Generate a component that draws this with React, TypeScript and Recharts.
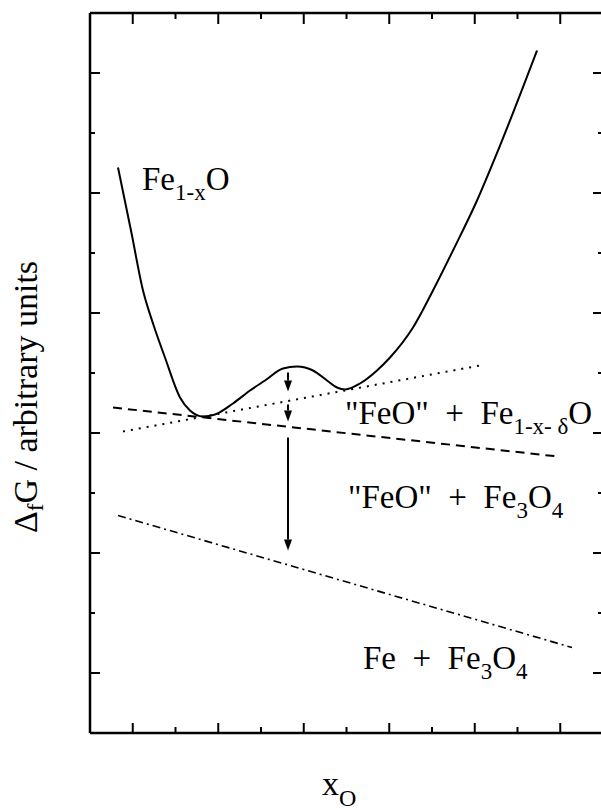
import React from 'react';
import { ComposedChart, Line, XAxis, YAxis, Scatter, ReferenceLine } from 'recharts';

const FONT = '"Liberation Serif", "DejaVu Serif", "Times New Roman", serif';

// Fe(1-x)O free-energy curve
const feoX = [0.655, 0.959, 1.24, 1.474, 1.754, 2.105, 2.339, 2.643, 2.924, 3.345, 3.743, 4.094, 4.515, 4.842, 5.216, 5.544, 5.778, 5.965, 6.316, 6.713, 7.018, 7.556, 8.023, 8.491, 9.053, 9.544, 10.456];
const feoG = [9.425, 8.375, 7.375, 6.825, 6.258, 5.592, 5.375, 5.275, 5.308, 5.492, 5.708, 5.875, 6.075, 6.108, 6.042, 5.875, 5.758, 5.725, 5.825, 6.042, 6.258, 6.758, 7.375, 8.042, 8.875, 9.708, 11.375];

// common tangent "FeO" + Fe(1-x-d)O (dotted)
const tangentX = [0.772, 9.123];
const tangentG = [5.025, 6.125];

// "FeO" + Fe3O4 (dashed)
const feoMagX = [0.538, 10.947];
const feoMagG = [5.425, 4.608];

// Fe + Fe3O4 (dash-dot)
const feMagX = [0.655, 11.275];
const feMagG = [3.625, 1.425];

// arrows
const arrowX = [4.632, 4.632, 4.632];
const arrowFrom = [6.008, 5.475, 4.925];
const arrowTo = [5.692, 5.192, 3.042];

// annotations: [text, isSubscript]
const labelX = [1.216, 5.965, 6.035, 6.386];
const labelG = [9.058, 5.158, 3.742, 1.075];
const labelParts: [string, number][][] = [
  [['Fe', 0], ['1-x', 1], ['O', 0]],
  [['"FeO"\u00a0\u00a0+\u00a0\u00a0Fe', 0], ['1-x-\u00a0\u03b4', 1], ['O', 0]],
  [['"FeO"\u00a0\u00a0+\u00a0\u00a0Fe', 0], ['3', 1], ['O', 0], ['4', 1]],
  [['Fe\u00a0\u00a0+\u00a0\u00a0Fe', 0], ['3', 1], ['O', 0], ['4', 1]],
];

// tick positions (odd = long tick, even = short tick)
const axisTicks = [1, 2, 3, 4, 5, 6, 7, 8, 9, 10, 11];

const zip = (xs: number[], ys: number[]) => xs.map((x, i) => ({ x, y: ys[i] }));
const feoData = zip(feoX, feoG);
const tangentData = zip(tangentX, tangentG);
const feoMagData = zip(feoMagX, feoMagG);
const feMagData = zip(feMagX, feMagG);
const labelData = labelX.map((x, i) => ({ x, y: labelG[i], parts: labelParts[i] }));

const textStyle = { fontFamily: FONT };

const LabelShape = (props: any) => {
  const { cx, cy, payload } = props;
  if (cx == null || cy == null) return null;
  let level = 0;
  return (
    <text x={cx} y={cy} style={textStyle} fontSize={33} fill="#000">
      {payload.parts.map((p: [string, number], i: number) => {
        const sub = p[1] === 1;
        let dy = 0;
        if (sub && level === 0) dy = 10;
        if (!sub && level === 1) dy = -10;
        level = sub ? 1 : 0;
        return (
          <tspan key={i} dy={dy} fontSize={sub ? 23 : 33}>
            {p[0]}
          </tspan>
        );
      })}
    </text>
  );
};

const ArrowShape = (props: any) => {
  const { x1, y1, x2, y2 } = props;
  if ([x1, y1, x2, y2].some((v) => v == null || isNaN(v))) return null;
  const dir = y2 > y1 ? 1 : -1;
  const head = 11;
  const hw = 4;
  return (
    <g>
      <line x1={x1} y1={y1} x2={x2} y2={y2 - dir * head} stroke="#000" strokeWidth={2} />
      <polygon points={`${x2},${y2} ${x2 - hw},${y2 - dir * head} ${x2 + hw},${y2 - dir * head}`} fill="#000" />
    </g>
  );
};

const tickLen = (v: number, major: number, minor: number) => (Math.round(v) % 2 === 1 ? major : minor);

// inward tick marks drawn from the axis line
const makeTick = (dx: number, dy: number, major: number, minor: number) => (props: any) => {
  const { x, y, payload } = props;
  if (x == null || y == null) return <g />;
  const len = tickLen(payload.value, major, minor);
  return <line x1={x} y1={y} x2={x + dx * len} y2={y + dy * len} stroke="#000" strokeWidth={2} />;
};

const bottomTick = makeTick(0, -1, 10, 6);
const topTick = makeTick(0, 1, 11, 6);
const leftTick = makeTick(1, 0, 10, 5);
const rightTick = makeTick(-1, 0, 10, 5);

const axisLine = { stroke: '#000', strokeWidth: 2.5 };

export default function App() {
  return (
    <div style={{ position: 'absolute', left: 0, top: 0, width: 601, height: 810, overflow: 'hidden', background: '#fff' }}>
      <ComposedChart width={640} height={810} margin={{ top: 13, right: 37, bottom: 77, left: 90 }}>
        <XAxis xAxisId={0} type="number" dataKey="x" domain={[0, 12]} ticks={axisTicks} interval={0} orientation="bottom" mirror tick={bottomTick} tickSize={0} tickMargin={0} tickLine={false} axisLine={axisLine} allowDataOverflow />
        <XAxis xAxisId="t" type="number" dataKey="x" domain={[0, 12]} ticks={axisTicks} interval={0} orientation="top" mirror tick={topTick} tickSize={0} tickMargin={0} tickLine={false} axisLine={axisLine} allowDataOverflow />
        <YAxis yAxisId={0} type="number" dataKey="y" domain={[0, 12]} ticks={axisTicks} interval={0} orientation="left" mirror tick={leftTick} tickSize={0} tickMargin={0} tickLine={false} axisLine={axisLine} allowDataOverflow />
        <YAxis yAxisId="r" type="number" dataKey="y" domain={[0, 12]} ticks={axisTicks} interval={0} orientation="right" mirror tick={rightTick} tickSize={0} tickMargin={0} tickLine={false} axisLine={axisLine} allowDataOverflow />

        <Line data={feoData} dataKey="y" type="monotone" stroke="#000" strokeWidth={2} dot={false} activeDot={false} isAnimationActive={false} />
        <Line data={tangentData} dataKey="y" type="linear" stroke="#000" strokeWidth={2} strokeDasharray="2 6" dot={false} activeDot={false} isAnimationActive={false} />
        <Line data={feoMagData} dataKey="y" type="linear" stroke="#000" strokeWidth={2} strokeDasharray="9 6" dot={false} activeDot={false} isAnimationActive={false} />
        <Line data={feMagData} dataKey="y" type="linear" stroke="#000" strokeWidth={1.6} strokeDasharray="8 4 2 4" dot={false} activeDot={false} isAnimationActive={false} />

        {arrowX.map((ax, i) => (
          <ReferenceLine key={i} segment={[{ x: ax, y: arrowFrom[i] }, { x: ax, y: arrowTo[i] }]} shape={ArrowShape} ifOverflow="visible" />
        ))}

        <Scatter data={labelData} dataKey="y" shape={LabelShape} isAnimationActive={false} />

        <text x={322} y={795} style={textStyle} fontSize={34} fill="#000">
          x<tspan dy={11} fontSize={24}>O</tspan>
        </text>
        <text x={37} y={397} transform="rotate(-90, 37, 397)" textAnchor="middle" style={textStyle} fontSize={34} fill="#000">
          {'\u0394'}<tspan dy={6} fontSize={23}>f</tspan><tspan dy={-6}>G / arbitrary units</tspan>
        </text>
      </ComposedChart>
    </div>
  );
}
